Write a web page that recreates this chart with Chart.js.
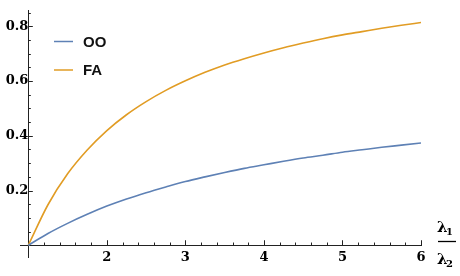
<!DOCTYPE html>
<html>
<head>
<meta charset="utf-8">
<script src="https://cdn.jsdelivr.net/npm/chart.js@4.4.1/dist/chart.umd.min.js"></script>
<style>
  html, body { margin: 0; padding: 0; background: #fff; }
  #wrap { width: 460px; height: 276px; }
</style>
</head>
<body>
<div id="wrap"><canvas id="chart" width="460" height="276"></canvas></div>
<script>
// ratio lambda1/lambda2 (x) and the two curves
const ratioValues = [1, 1.25, 1.5, 1.75, 2, 2.25, 2.5, 2.75, 3, 3.25, 3.5, 3.75, 4, 4.25, 4.5, 4.75, 5, 5.25, 5.5, 5.75, 6];
const ooValues = [0, 0.043, 0.080, 0.113, 0.143, 0.169, 0.192, 0.213, 0.233, 0.250, 0.266, 0.281, 0.294, 0.307, 0.319, 0.329, 0.340, 0.349, 0.358, 0.366, 0.374];
const faValues = [0, 0.148, 0.261, 0.348, 0.419, 0.477, 0.525, 0.566, 0.601, 0.632, 0.659, 0.682, 0.703, 0.722, 0.739, 0.755, 0.769, 0.781, 0.793, 0.804, 0.814];
const seriesNames = ['OO', 'FA'];
const xTickLabels = [2, 3, 4, 5, 6];
const yTickLabels = [0.2, 0.4, 0.6, 0.8];

const tickFont = { family: 'DejaVu Serif', size: 13, weight: 'bold' };

// minor / major tick marks drawn inward like Mathematica
const tickMarks = {
    id: 'tickMarks',
    afterDraw(chart) {
        const c = chart.ctx;
        const xs = chart.scales.x, ys = chart.scales.y;
        const x0 = xs.getPixelForValue(1), y0 = ys.getPixelForValue(0);
        c.save();
        c.strokeStyle = '#222';
        c.lineWidth = 1;
        c.beginPath();
        for (let i = 1; i <= 25; i++) {
            const v = 1 + i * 0.2;
            const px = Math.round(xs.getPixelForValue(v)) + 0.5;
            const len = (i % 5 === 0) ? 5 : 2.7;
            c.moveTo(px, y0);
            c.lineTo(px, y0 - len);
        }
        for (let i = 1; i <= 17; i++) {
            const v = i * 0.05;
            const py = Math.round(ys.getPixelForValue(v)) + 0.5;
            const len = (i % 4 === 0) ? 4.5 : 2.5;
            c.moveTo(x0, py);
            c.lineTo(x0 + len, py);
        }
        c.stroke();
        c.restore();
    }
};

// legend inside the plot, top left
const innerLegend = {
    id: 'innerLegend',
    afterDraw(chart) {
        const c = chart.ctx;
        c.save();
        c.font = 'bold 15px "Liberation Sans", Arial, sans-serif';
        c.textBaseline = 'middle';
        chart.data.datasets.forEach((ds, i) => {
            const y = 41.5 + i * 28.5;
            c.strokeStyle = ds.borderColor;
            c.lineWidth = 1.5;
            c.beginPath();
            c.moveTo(54, y);
            c.lineTo(73, y);
            c.stroke();
            c.fillStyle = '#111';
            c.fillText(ds.label, 83, y + 1);
        });
        c.restore();
    }
};

// lambda1 / lambda2 axis label at the right end of the x axis
const axisLabel = {
    id: 'axisLabel',
    afterDraw(chart) {
        const c = chart.ctx;
        c.save();
        c.fillStyle = '#000';
        c.textBaseline = 'alphabetic';
        c.font = 'bold 15px "DejaVu Serif"';
        c.fillText('λ', 437, 232);
        c.fillText('λ', 437, 264);
        c.font = 'bold 10px "DejaVu Serif"';
        c.fillText('1', 446, 235);
        c.fillText('2', 446, 267);
        c.strokeStyle = '#000';
        c.lineWidth = 1.3;
        c.beginPath();
        c.moveTo(438, 241.5);
        c.lineTo(456, 241.5);
        c.stroke();
        c.restore();
    }
};

const ctx = document.getElementById('chart').getContext('2d');
const chart = new Chart(ctx, {
    type: 'line',
    data: {
        datasets: [
            {
                label: seriesNames[0],
                data: ratioValues.map((x, i) => ({ x: x, y: ooValues[i] })),
                borderColor: '#5e81b5',
                borderWidth: 1.6,
                pointRadius: 0,
                cubicInterpolationMode: 'monotone',
                fill: false
            },
            {
                label: seriesNames[1],
                data: ratioValues.map((x, i) => ({ x: x, y: faValues[i] })),
                borderColor: '#e19c24',
                borderWidth: 1.6,
                pointRadius: 0,
                cubicInterpolationMode: 'monotone',
                fill: false
            }
        ]
    },
    options: {
        responsive: false,
        animation: false,
        layout: { padding: { left: 20, right: 39, top: 5, bottom: 19 } },
        plugins: { legend: { display: false }, tooltip: { enabled: false } },
        scales: {
            x: {
                type: 'linear',
                position: { y: 0 },
                min: 0.894,
                max: 6,
                grid: { display: false, drawTicks: false },
                border: { display: true, color: '#222', width: 1 },
                afterBuildTicks: (scale) => { scale.ticks = xTickLabels.map(v => ({ value: v })); },
                ticks: { font: tickFont, color: '#000', padding: 5, maxRotation: 0, autoSkip: false }
            },
            y: {
                type: 'linear',
                position: { x: 1 },
                min: -0.043,
                max: 0.857,
                grid: { display: false, drawTicks: false },
                border: { display: true, color: '#222', width: 1 },
                afterBuildTicks: (scale) => { scale.ticks = yTickLabels.map(v => ({ value: v })); },
                ticks: { font: tickFont, color: '#000', padding: 3, autoSkip: false, callback: (v) => v.toFixed(1) }
            }
        }
    },
    plugins: [tickMarks, innerLegend, axisLabel]
});
</script>
</body>
</html>
